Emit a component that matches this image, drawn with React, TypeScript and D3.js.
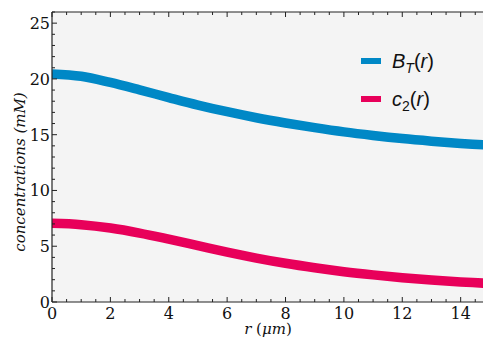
import React from 'react';
import * as d3 from 'd3';

const rValues = [0, 1, 2, 3, 4, 5, 6, 7, 8, 9, 10, 11, 12, 13, 14, 15];
const bTotal = [20.45, 20.24, 19.68, 19.02, 18.33, 17.66, 17.06, 16.52, 16.05, 15.63, 15.25, 14.93, 14.65, 14.42, 14.22, 14.05];
const c2 = [7.05, 6.93, 6.63, 6.18, 5.63, 5.05, 4.47, 3.94, 3.47, 3.07, 2.72, 2.43, 2.18, 1.97, 1.8, 1.66];
const xTicks = [0, 2, 4, 6, 8, 10, 12, 14];
const yTicks = [0, 5, 10, 15, 20, 25];

const W = 483;
const H = 342;
const left = 52;
const top = 12;
const bottom = 302;
const serif = 'DejaVu Serif';
const sans = 'Liberation Sans';

const App: React.FC = () => {
  // frame runs past the right edge of the picture, so r = 15 lands off-screen
  const x = d3.scaleLinear().domain([0, 15]).range([left, left + 15 * 29.19]);
  const y = d3.scaleLinear().domain([0, 26]).range([bottom, top]);
  const right = x(15);

  const line = d3
    .line<number>()
    .x((_, i) => x(rValues[i]))
    .y(d => y(d))
    .curve(d3.curveCatmullRom.alpha(0.5));

  const xMinor = d3.range(0, 15.01, 0.5);
  const yMinor = d3.range(0, 26.01, 1);

  return (
    <svg width={W} height={H} style={{ position: 'absolute', left: 0, top: 0 }}>
      <defs>
        <clipPath id="plot">
          <rect x={left} y={top} width={right - left} height={bottom - top} />
        </clipPath>
      </defs>
      <rect x={left} y={top} width={right - left} height={bottom - top} fill="#f4f4f4" />
      <g clipPath="url(#plot)" fill="none" strokeWidth={9.5}>
        <path d={line(bTotal) || ''} stroke="#0088c6" />
        <path d={line(c2) || ''} stroke="#e8005a" />
      </g>

      {/* ticks */}
      <g stroke="#222" strokeWidth={1}>
        {xMinor.map(v => {
          const major = v % 2 === 0;
          const len = major ? 5 : 3;
          return (
            <g key={'x' + v}>
              <line x1={x(v)} x2={x(v)} y1={bottom} y2={bottom - len} />
              <line x1={x(v)} x2={x(v)} y1={top} y2={top + len} />
            </g>
          );
        })}
        {yMinor.map(v => {
          const len = v % 5 === 0 ? 5 : 3;
          return <line key={'y' + v} x1={left} x2={left + len} y1={y(v)} y2={y(v)} />;
        })}
      </g>
      <g stroke="#222" strokeWidth={1.2} fill="none">
        <line x1={left} x2={left} y1={top} y2={bottom} />
        <line x1={left} x2={right} y1={top} y2={top} />
        <line x1={left} x2={right} y1={bottom} y2={bottom} />
      </g>

      <g fontFamily={serif} fontSize={16} fill="#111">
        {xTicks.map(v => (
          <text key={'xl' + v} x={x(v)} y={bottom + 17} textAnchor="middle">
            {v}
          </text>
        ))}
        {yTicks.map(v => (
          <text key={'yl' + v} x={left - 2} y={y(v) + 6} textAnchor="end">
            {v}
          </text>
        ))}
        <text x={x(7.4)} y={334} textAnchor="middle" fontSize={15}>
          <tspan fontStyle="italic">r</tspan> (<tspan fontStyle="italic">μm</tspan>)
        </text>
        <text
          transform={`translate(25, 172) rotate(-90)`}
          textAnchor="middle"
          fontSize={15}
          fontStyle="italic"
        >
          concentrations (mM)
        </text>
      </g>

      <g fontFamily={sans} fontSize={20} fill="#111">
        <line x1={361} x2={381} y1={61} y2={61} stroke="#0088c6" strokeWidth={6} />
        <text x={392} y={68}>
          <tspan fontStyle="italic">B</tspan>
          <tspan fontStyle="italic" fontSize={14} dy={5}>T</tspan>
          <tspan dy={-5}>(</tspan>
          <tspan fontStyle="italic">r</tspan>
          <tspan>)</tspan>
        </text>
        <line x1={361} x2={381} y1={99} y2={99} stroke="#e8005a" strokeWidth={6} />
        <text x={392} y={106}>
          <tspan fontStyle="italic">c</tspan>
          <tspan fontSize={14} dy={5}>2</tspan>
          <tspan dy={-5}>(</tspan>
          <tspan fontStyle="italic">r</tspan>
          <tspan>)</tspan>
        </text>
      </g>
    </svg>
  );
};

export default App;
